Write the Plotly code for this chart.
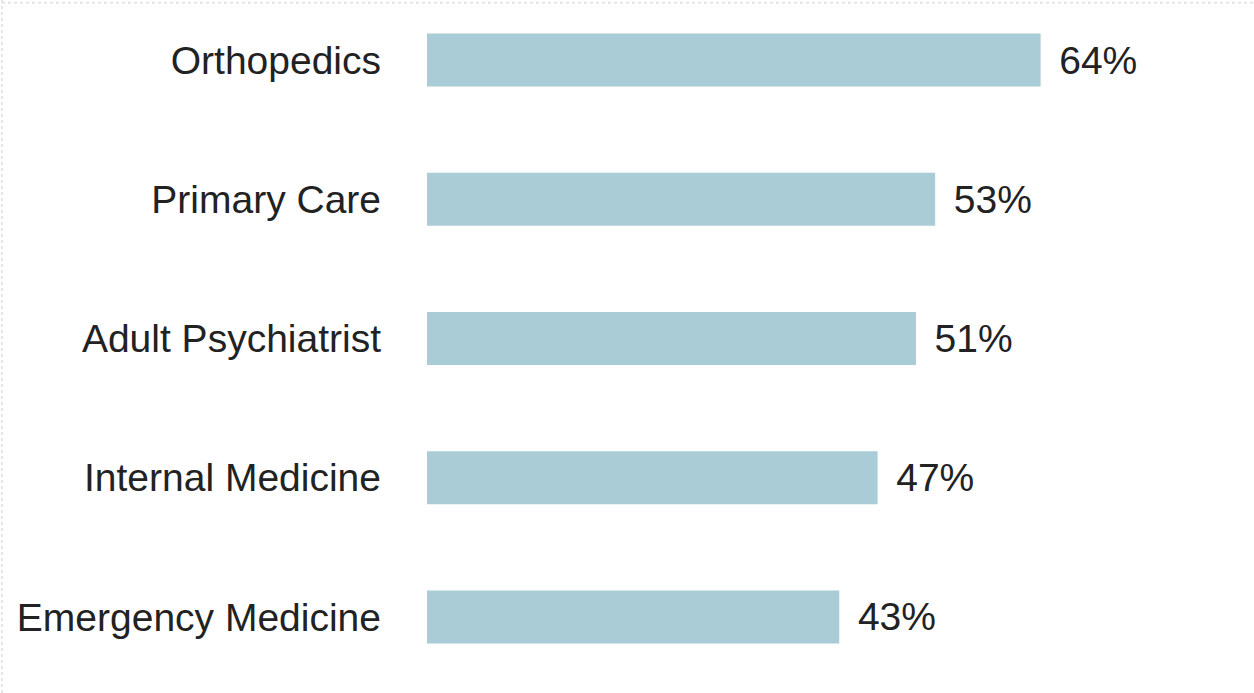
import plotly.graph_objects as go

categories = ["Orthopedics", "Primary Care", "Adult Psychiatrist", "Internal Medicine", "Emergency Medicine"]
values = [64, 53, 51, 47, 43]

FONT = "Liberation Sans Narrow, Arial Narrow, Liberation Sans, Arial, sans-serif"
FS = 39

fig = go.Figure(
    go.Bar(
        x=values,
        y=categories,
        orientation="h",
        width=0.38,
        marker=dict(color="#A9CCD6", line=dict(width=0)),
        texttemplate="\u2009\u2009%{x}%",
        textposition="outside",
        textfont=dict(family=FONT, size=FS, color="#222222"),
        cliponaxis=False,
        hoverinfo="skip",
    )
)

fig.update_layout(
    width=1254,
    height=693,
    margin=dict(l=427, r=60, t=0, b=0),
    paper_bgcolor="white",
    plot_bgcolor="white",
    showlegend=False,
    xaxis=dict(range=[0, 80], visible=False, fixedrange=True, automargin=False),
    yaxis=dict(
        type="category",
        categoryorder="array",
        categoryarray=categories,
        range=[4.546, -0.431],
        automargin=False,
        fixedrange=True,
        showgrid=False,
        showline=False,
        zeroline=False,
        ticks="",
        ticklabelstandoff=45,
        tickfont=dict(family=FONT, size=FS, color="#222222"),
    ),
)

# faint dotted frame at top and left edges
fig.add_shape(type="line", xref="paper", yref="paper", x0=-425/767, x1=1.08, y0=0.996, y1=0.996,
              line=dict(color="#e6e6e6", width=2, dash="dot"))
fig.add_shape(type="line", xref="paper", yref="paper", x0=-425/767, x1=-425/767, y0=0, y1=1,
              line=dict(color="#e6e6e6", width=2, dash="dot"))

fig.write_html("out.html", config={"displayModeBar": False},
               post_script="document.body.style.margin='0';")
